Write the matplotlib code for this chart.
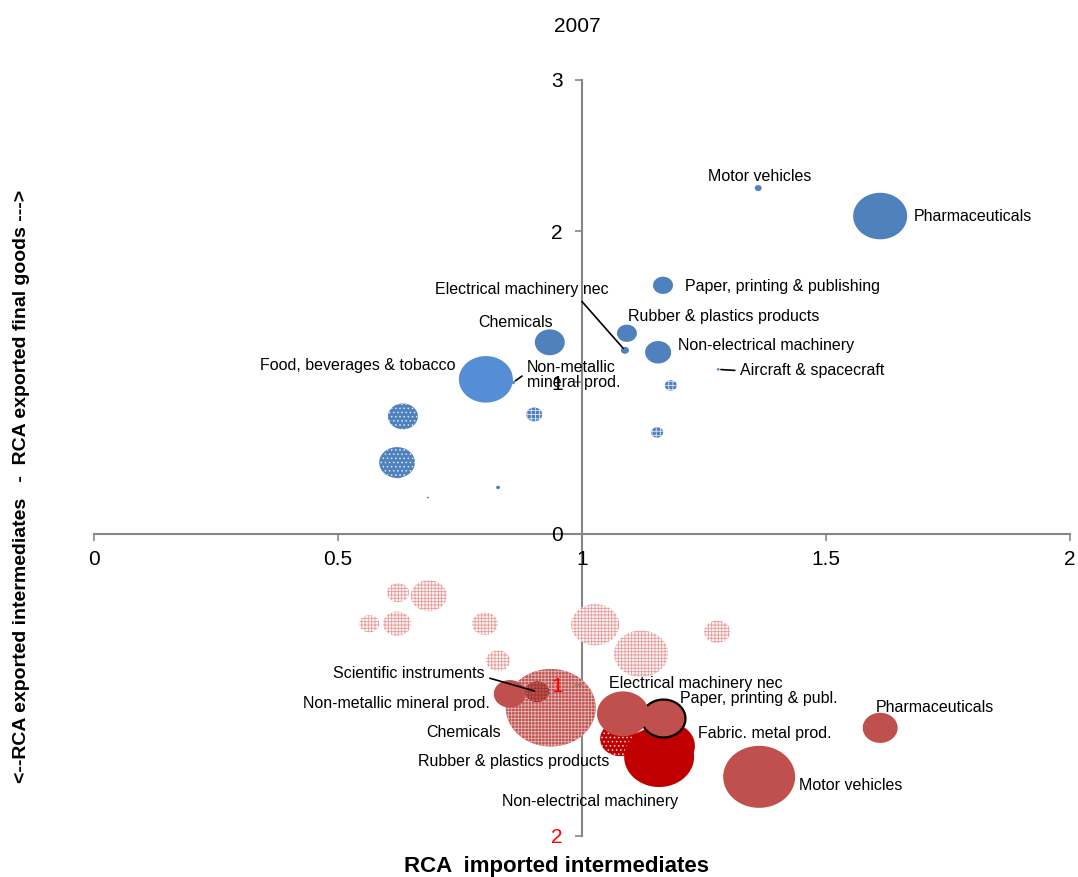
import numpy as np
import matplotlib
matplotlib.use('Agg')
import matplotlib.pyplot as plt
from matplotlib.path import Path

plt.rcParams['font.family'] = ['Liberation Sans', 'DejaVu Sans']
plt.rcParams['hatch.linewidth'] = 0.6

# RCA exported final goods (upper half)
fin_names = ['', '', '', '', '', '', '', '',
             'Motor vehicles', 'Pharmaceuticals', 'Paper, printing & publishing',
             'Rubber & plastics products', 'Electrical machinery nec',
             'Non-electrical machinery', 'Chemicals', 'Food, beverages & tobacco',
             'Non-metallic\nmineral prod.', 'Aircraft & spacecraft']
fin_x = [1.182, 1.154, 0.902, 0.633, 0.623, 0.621, 0.828, 0.684,
         1.361, 1.611, 1.166, 1.092, 1.088, 1.156, 0.934, 0.803, 0.859, 1.279]
fin_y = [0.98, 0.669, 0.788, 0.775, 0.40, 0.47, 0.305, 0.238,
         2.285, 2.10, 1.642, 1.325, 1.212, 1.199, 1.265, 1.02, 1.0, 1.086]
fin_share = [0.36, 0.36, 0.64, 2.25, 0.36, 3.2, 0.04, 0.01,
             0.12, 7.3, 1.0, 1.0, 0.16, 1.7, 2.25, 7.3, 0.04, 0.02]
fin_kind = ['blue_grid', 'blue_grid', 'blue_grid', 'blue_dots', 'blue_grid', 'blue_dots', 'blue', 'blue',
            'blue', 'blue', 'blue', 'blue', 'blue', 'blue', 'blue', 'lblue', 'lblue', 'blue']

# RCA exported intermediates (lower half, drawn downwards)
int_names = ['', '', '', '', '', '', '', '', '',
             'Chemicals', 'Non-metallic mineral prod.', 'Scientific instruments',
             'Rubber & plastics products', 'Non-electrical machinery', 'Fabric. metal prod.',
             'Paper, printing & publ.', 'Electrical machinery nec', 'Pharmaceuticals',
             'Motor vehicles']
int_x = [0.686, 0.623, 0.564, 0.621, 0.801, 1.027, 1.121, 1.277, 0.828,
         0.936, 0.852, 0.908, 1.078, 1.158, 1.176, 1.166, 1.084, 1.611, 1.363]
int_rca = [0.411, 0.391, 0.596, 0.596, 0.596, 0.603, 0.795, 0.649, 0.841,
           1.152, 1.060, 1.046, 1.358, 1.477, 1.404, 1.219, 1.192, 1.285, 1.609]
int_share = [3.24, 1.21, 1.0, 1.96, 1.69, 5.76, 7.29, 1.69, 1.44,
             20.25, 2.56, 1.44, 4.0, 12.25, 7.29, 4.84, 6.76, 3.06, 12.96]
int_kind = ['pink'] * 9 + ['red_grid', 'red', 'red_grid_dark', 'dred_dots', 'dred', 'dred',
                           'red_outline', 'red', 'red', 'red']

styles = {
    'blue': dict(facecolor='#4F81BD', edgecolor='none', linewidths=0),
    'lblue': dict(facecolor='#558ED5', edgecolor='none', linewidths=0),
    'blue_grid': dict(facecolor='#4F81BD', edgecolor='#DCE6F2', linewidths=0, hatch='++++'),
    'blue_dots': dict(facecolor='#4F81BD', edgecolor='#DCE6F2', linewidths=0, hatch='....'),
    'pink': dict(facecolor='#FFF6F6', edgecolor='#E59C9A', linewidths=0, hatch='+++++'),
    'red': dict(facecolor='#C0504D', edgecolor='none', linewidths=0),
    'red_grid': dict(facecolor='#C0504D', edgecolor='#E6B9B8', linewidths=0, hatch='+++++'),
    'red_grid_dark': dict(facecolor='#C0504D', edgecolor='#963634', linewidths=0, hatch='+++++'),
    'dred': dict(facecolor='#C00000', edgecolor='none', linewidths=0),
    'dred_dots': dict(facecolor='#C00000', edgecolor='#F2DCDB', linewidths=0, hatch='....'),
    'red_outline': dict(facecolor='#C0504D', edgecolor='black', linewidths=1.6),
}

# Excel bubbles come out a bit wider than tall in this picture
t = np.linspace(0, 2 * np.pi, 120)
ellipse = Path(np.column_stack([np.cos(t), np.sin(t) / 1.16]), closed=True)

fig = plt.figure(figsize=(10.78, 8.77), dpi=100)
ax = fig.add_axes([0.0872, 0.0468, 0.9054, 0.862])

def bubbles(xs, ys, shares, kinds):
    for x, y, s, k in zip(xs, ys, shares, kinds):
        ax.scatter([x], [y], s=207 * s, marker=ellipse, clip_on=False, **styles[k])

bubbles(fin_x, fin_y, fin_share, fin_kind)
bubbles(int_x, [-v for v in int_rca], int_share, int_kind)

# label offsets (points) from the bubble centre: dx, dy, ha, line?
fin_lab = {
    'Motor vehicles': (1, 8, 'center', None),
    'Pharmaceuticals': (24, 0, 'left', None),
    'Paper, printing & publishing': (16, -1, 'left', None),
    'Rubber & plastics products': (1, 12, 'left', None),
    'Electrical machinery nec': (-74, 44, 'center', (0.82, 0)),
    'Non-electrical machinery': (14, 5, 'left', None),
    'Chemicals': (2, 14, 'right', None),
    'Food, beverages & tobacco': (-22, 10, 'right', None),
    'Non-metallic\nmineral prod.': (10, 5, 'left', (0, 0.6)),
    'Aircraft & spacecraft': (16, -1, 'left', (0, 0.5)),
}
int_lab = {
    'Scientific instruments': (-38, 13, 'right', (1, 0.3)),
    'Non-metallic mineral prod.': (-14, -7, 'right', None),
    'Chemicals': (-36, -18, 'right', None),
    'Rubber & plastics products': (-8, -16, 'right', None),
    'Non-electrical machinery': (-50, -32, 'center', None),
    'Fabric. metal prod.': (22, 9, 'left', None),
    'Paper, printing & publ.': (12, 14, 'left', None),
    'Electrical machinery nec': (-10, 22, 'left', None),
    'Pharmaceuticals': (-3, 15, 'left', None),
    'Motor vehicles': (29, -6, 'left', None),
}

def labels(names, xs, ys, lab):
    for n, x, y in zip(names, xs, ys):
        if n not in lab:
            continue
        dx, dy, ha, line = lab[n]
        arrow = None
        if line is not None:
            arrow = dict(arrowstyle='-', color='black', lw=1.2, relpos=line,
                         shrinkA=2, shrinkB=2)
        ax.annotate(n, xy=(x, y), xytext=(dx, dy), textcoords='offset points',
                    ha=ha, va='center', fontsize=11.5, color='black',
                    arrowprops=arrow, linespacing=1.0, annotation_clip=False)

labels(fin_names, fin_x, fin_y, fin_lab)
labels(int_names, int_x, [-v for v in int_rca], int_lab)

ax.set_xlim(0, 2)
ax.set_ylim(-2, 3)
for s in ['top', 'right']:
    ax.spines[s].set_visible(False)
ax.spines['left'].set_position(('data', 1))
ax.spines['bottom'].set_position(('data', 0))
for s in ['left', 'bottom']:
    ax.spines[s].set_color('#868686')
    ax.spines[s].set_linewidth(1.5)
    ax.spines[s].set_zorder(0.5)

ax.set_xticks([0, 0.5, 1, 1.5, 2])
ax.set_xticklabels(['0', '0.5', '1', '1.5', '2'])
ax.set_yticks([-2, -1, 0, 1, 2, 3])
ax.set_yticklabels(['2', '1', '0', '1', '2', '3'])
for lab in ax.get_yticklabels()[:2]:
    lab.set_color('red')
ax.tick_params(axis='x', length=5, width=1.2, color='#868686', labelsize=15, pad=7)
ax.tick_params(axis='y', length=5, width=1.2, color='#868686', labelsize=15, pad=9)
ax.patch.set_visible(False)

fig.text(0.536, 0.9695, '2007', ha='center', va='center', fontsize=15)
fig.text(0.516, 0.0125, 'RCA  imported intermediates', ha='center', va='center',
         fontsize=16, fontweight='bold')
fig.text(0.0204, 0.445, '<--RCA exported intermediates   -  RCA exported final goods --->',
         rotation=90, ha='center', va='center', fontsize=14, fontweight='bold')

fig.savefig('out.png', dpi=100)
